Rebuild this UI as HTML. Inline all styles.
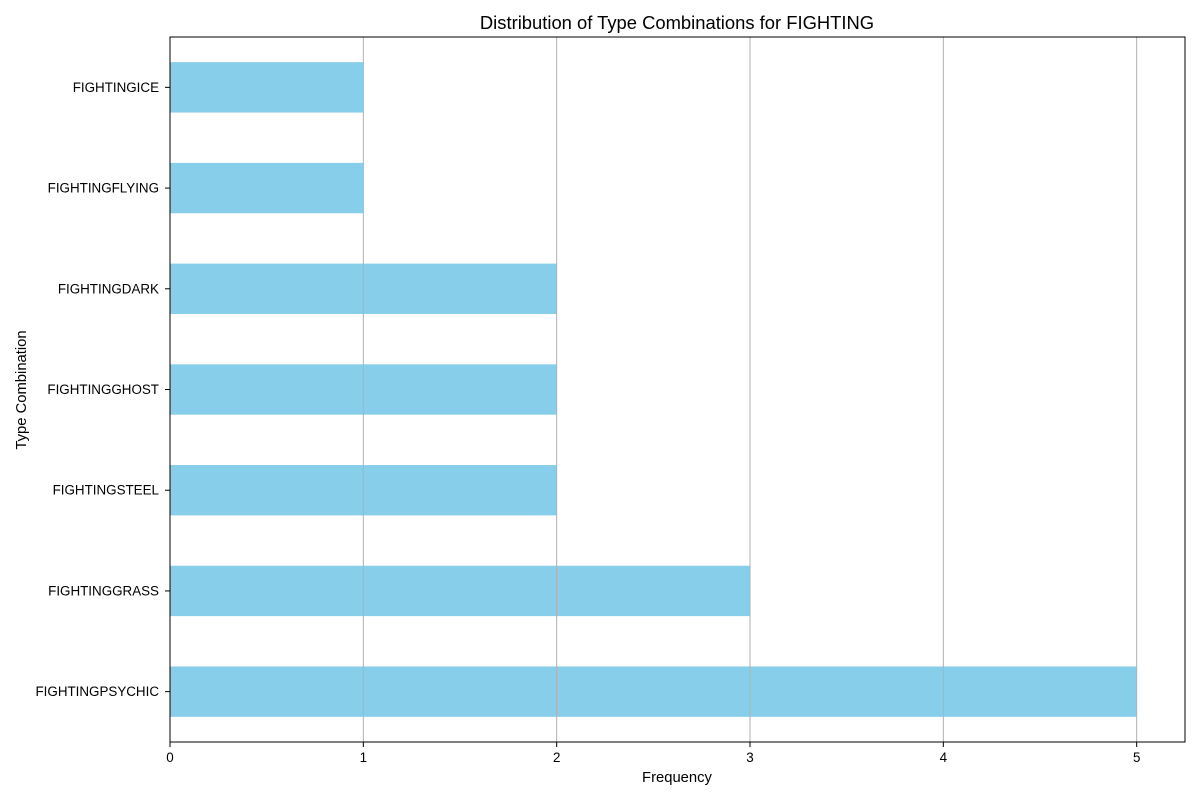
<!DOCTYPE html>
<html><head><meta charset="utf-8"><style>
body{margin:0;background:#fff;}
svg text{font-family:"Liberation Sans",sans-serif;fill:#000;}
</style></head><body>
<svg id="chart" width="1200" height="800" xmlns="http://www.w3.org/2000/svg">
<text x="677" y="29" font-size="18.4" text-anchor="middle">Distribution of Type Combinations for FIGHTING</text>
<text x="677" y="782" font-size="14.8" text-anchor="middle">Frequency</text>
<text transform="translate(26,390) rotate(-90)" font-size="14.8" text-anchor="middle">Type Combination</text>
<g id="bars"></g><g id="grid"></g><g id="axes"></g>
</svg>
<script>
const categories = ["FIGHTINGPSYCHIC","FIGHTINGGRASS","FIGHTINGSTEEL","FIGHTINGGHOST","FIGHTINGDARK","FIGHTINGFLYING","FIGHTINGICE"];
const values = [5,3,2,2,2,1,1];
const xTicks = [0,1,2,3,4,5];
const xTickLabels = ["0","1","2","3","4","5"];

const L=170,R=1185,T=37,B=742,XMAX=5.25;
const n=categories.length;
function xs(v){return L+(v/XMAX)*(R-L);}
function ys(i){return B-((i+0.5)/n)*(B-T);}
const bandH=(B-T)/n;
const NS="http://www.w3.org/2000/svg";
function mk(tag,attrs,parent){const e=document.createElementNS(NS,tag);for(const k in attrs)e.setAttribute(k,attrs[k]);parent.appendChild(e);return e;}
const gb=document.getElementById('bars'),gg=document.getElementById('grid'),ga=document.getElementById('axes');
values.forEach((v,i)=>{
  const r=mk('rect',{x:xs(0),y:ys(i)-bandH*0.25,width:xs(v)-xs(0),height:bandH*0.5,fill:'#87ceeb'},gb);
  
  
  mk('line',{x1:L-5,x2:L,y1:ys(i),y2:ys(i),stroke:'#000','stroke-width':1},ga);
  const t=mk('text',{x:L-11,y:ys(i)+4.5,'font-size':13.4,'text-anchor':'end'},ga);
  t.textContent=categories[i];
  
  
});
xTicks.forEach((v,i)=>{
  const g=mk('line',{x1:xs(v),x2:xs(v),y1:T,y2:B,stroke:'#b0b0b0','stroke-width':1},gg);
  
  
  mk('line',{x1:xs(v),x2:xs(v),y1:B,y2:B+5,stroke:'#000','stroke-width':1},ga);
  const t=mk('text',{x:xs(v),y:B+20,'font-size':13.4,'text-anchor':'middle'},ga);
  t.textContent=xTickLabels[i];
  
  
});
const f=mk('rect',{x:L,y:T,width:R-L,height:B-T,fill:'none',stroke:'#000','stroke-width':1},ga);


</script>
</body></html>
